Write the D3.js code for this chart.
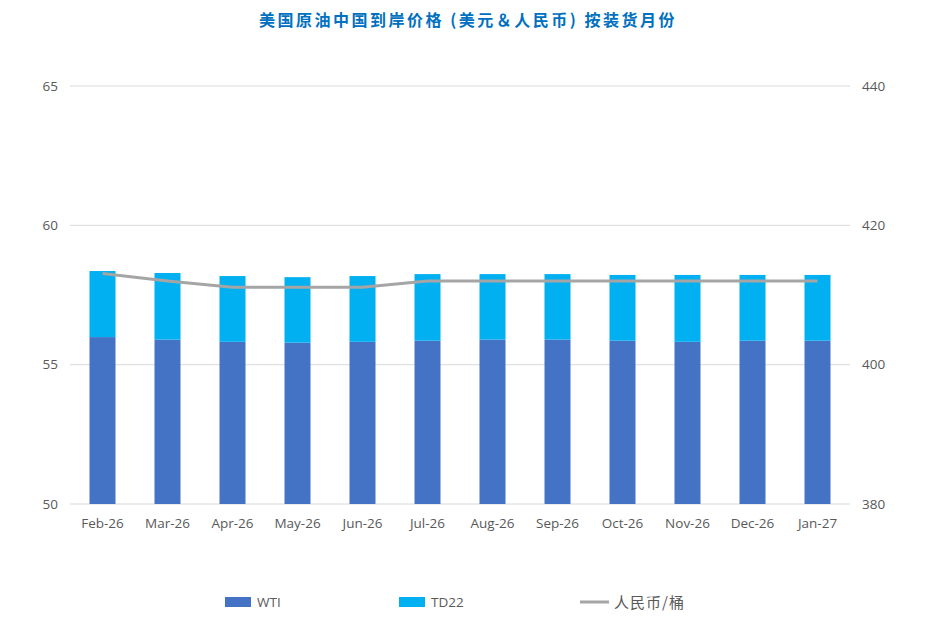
<!DOCTYPE html>
<html>
<head>
<meta charset="utf-8">
<title>美国原油中国到岸价格</title>
<style>
  body { margin: 0; background: #fff; }
  text { font-family: "Open Sans", "Noto Sans CJK SC", sans-serif; }
</style>
</head>
<body>
<div id="chart"></div>
<script src="https://d3js.org/d3.v7.min.js"></script>
<script>
// data
var months = ["Feb-26", "Mar-26", "Apr-26", "May-26", "Jun-26", "Jul-26",
              "Aug-26", "Sep-26", "Oct-26", "Nov-26", "Dec-26", "Jan-27"];
var wti  = [55.99, 55.90, 55.82, 55.79, 55.82, 55.86, 55.90, 55.90, 55.86, 55.82, 55.86, 55.86];
var td22 = [2.37, 2.39, 2.36, 2.35, 2.36, 2.39, 2.35, 2.35, 2.36, 2.40, 2.36, 2.36];
var rmb  = [413.1, 412.0, 411.1, 411.1, 411.1, 412.0, 412.0, 412.0, 412.0, 412.0, 412.0, 412.0];
var leftTicks = [50, 55, 60, 65];
var rightTicks = [380, 400, 420, 440];

var width = 937, height = 634;
var margin = {top: 86, right: 87, bottom: 130, left: 70};

var svg = d3.select('#chart').append('svg')
  .attr('width', width)
  .attr('height', height);

var x = d3.scaleBand()
  .domain(months)
  .range([margin.left, width - margin.right])
  .paddingInner(0.6)
  .paddingOuter(0.3);

var y = d3.scaleLinear().domain([50, 65]).range([height - margin.bottom, margin.top]);
var y2 = d3.scaleLinear().domain([380, 440]).range([height - margin.bottom, margin.top]);

// title
svg.append('text')
  .attr('x', 468).attr('y', 26)
  .attr('text-anchor', 'middle')
  .style('font-family', '"Noto Sans CJK SC", sans-serif')
  .style('font-size', '16px')
  .style('font-weight', 'bold')
  .style('letter-spacing', '2.5px')
  .style('fill', '#0070c0')
  .text('美国原油中国到岸价格 (美元＆人民币) 按装货月份');

// gridlines
svg.append('g').selectAll('line')
  .data(leftTicks)
  .enter().append('line')
  .attr('x1', margin.left).attr('x2', width - margin.right)
  .attr('y1', function(d) { return y(d); })
  .attr('y2', function(d) { return y(d); })
  .style('stroke', '#d9d9d9')
  .style('stroke-width', '1px');

// left axis
var leftAxis = svg.append('g')
  .attr('transform', 'translate(' + (margin.left - 12) + ',0)')
  .call(d3.axisLeft(y).tickValues(leftTicks).tickSize(0).tickPadding(0));
leftAxis.select('.domain').remove();

// right axis
var rightAxis = svg.append('g')
  .attr('transform', 'translate(' + (width - margin.right + 12) + ',0)')
  .call(d3.axisRight(y2).tickValues(rightTicks).tickSize(0).tickPadding(0));
rightAxis.select('.domain').remove();

// x axis
var xAxis = svg.append('g')
  .attr('transform', 'translate(0,' + (height - margin.bottom + 12) + ')')
  .call(d3.axisBottom(x).tickSize(0).tickPadding(0));
xAxis.select('.domain').remove();
xAxis.selectAll('text').attr('dy', '0.9em');

svg.selectAll('.tick text')
  .style('font-family', '"Open Sans", sans-serif')
  .style('font-size', '13.5px')
  .style('fill', '#595959');

// stacked bars
var rows = months.map(function(m, i) { return {month: m, wti: wti[i], td22: td22[i]}; });
var stack = d3.stack().keys(['wti', 'td22'])(rows);
var colors = {wti: '#4472c4', td22: '#00b0f0'};

svg.append('g').selectAll('g')
  .data(stack)
  .enter().append('g')
  .style('fill', function(d) { return colors[d.key]; })
  .selectAll('rect')
  .data(function(d) { return d; })
  .enter().append('rect')
  .attr('x', function(d) { return x(d.data.month); })
  .attr('width', x.bandwidth())
  .attr('y', function(d) { return y(d[1]); })
  .attr('height', function(d) { return y(Math.max(d[0], 50)) - y(d[1]); });

// RMB line
var line = d3.line()
  .x(function(d, i) { return x(months[i]) + x.bandwidth() / 2; })
  .y(function(d) { return y2(d); });

svg.append('path')
  .datum(rmb)
  .attr('d', line)
  .style('fill', 'none')
  .style('stroke', '#a5a5a5')
  .style('stroke-width', '3px')
  .style('stroke-linejoin', 'round');

// legend
var legend = svg.append('g').style('font-size', '13.5px').style('fill', '#595959');
var ly = 602;

legend.append('rect').attr('x', 225).attr('y', ly - 5).attr('width', 26).attr('height', 10).style('fill', colors.wti);
legend.append('text').attr('x', 257).attr('y', ly + 5).style('fill', '#595959').text('WTI');

legend.append('rect').attr('x', 399).attr('y', ly - 5).attr('width', 26).attr('height', 10).style('fill', colors.td22);
legend.append('text').attr('x', 431).attr('y', ly + 5).style('fill', '#595959').text('TD22');

legend.append('line').attr('x1', 580).attr('x2', 609).attr('y1', ly).attr('y2', ly)
  .style('stroke', '#a5a5a5').style('stroke-width', '3px');
legend.append('text').attr('x', 614).attr('y', ly + 6)
  .style('font-family', '"Noto Sans CJK SC", sans-serif')
  .style('font-size', '15px')
  .style('letter-spacing', '1px')
  .style('fill', '#595959').text('人民币/桶');
</script>
</body>
</html>
